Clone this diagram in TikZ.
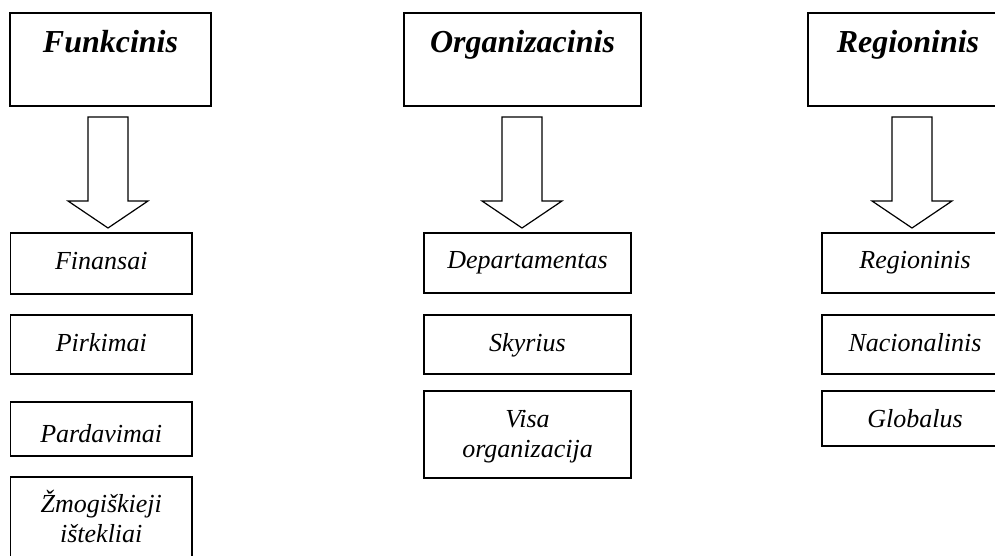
\documentclass[tikz,border=0pt]{standalone}
\usepackage{fontspec}
\setmainfont{Liberation Serif}
\begin{document}
\begin{tikzpicture}[x=1pt,y=-1pt,
  line width=1.2pt,
  box/.style={draw,rectangle,inner sep=0pt,line join=miter},
  hdrtext/.style={anchor=base,inner sep=0pt,font=\fontsize{32}{38}\selectfont\bfseries\itshape},
  subtext/.style={anchor=base,inner sep=0pt,align=center,font=\fontsize{26}{30}\selectfont\itshape},
  blockarrow/.style={draw,line join=miter,fill=white}]
\useasboundingbox (0,0) rectangle (995,556);
\clip (0,0) rectangle (995,556);
% block arrow: centre x, shaft from 117 to 201, tip at 228
\newcommand{\downblock}[1]{%
  \draw[blockarrow] (#1-20,117) -- (#1+20,117) -- (#1+20,201) -- (#1+40,201)
    -- (#1,228) -- (#1-40,201) -- (#1-20,201) -- cycle;}

% ---- column 1: Funkcinis
\node[box,minimum width=201pt,minimum height=93pt] (f) at (110.5,59.5) {};
\node[hdrtext] (ft) at (110.5,53) {Funkcinis};
\downblock{108}
\node[box,minimum width=181.5pt,minimum height=61pt] (f1) at (101.25,263.5) {};
\node[subtext] (f1t) at (101.25,269) {Finansai};
\node[box,minimum width=181.5pt,minimum height=59pt] (f2) at (101.25,344.5) {};
\node[subtext] (f2t) at (101.25,351) {Pirkimai};
\node[box,minimum width=181.5pt,minimum height=54pt] (f3) at (101.25,429) {};
\node[subtext] (f3t) at (101.25,442) {Pardavimai};
\node[box,minimum width=181.5pt,minimum height=92pt] (f4) at (101.25,523) {};
\node[subtext] (f4a) at (101.25,512) {Žmogiškieji};
\node[subtext] (f4b) at (101.25,542) {ištekliai};

% ---- column 2: Organizacinis
\node[box,minimum width=237pt,minimum height=93pt] (o) at (522.5,59.5) {};
\node[hdrtext] (ot) at (522.5,53) {Organizacinis};
\downblock{522}
\node[box,minimum width=207pt,minimum height=60pt] (o1) at (527.5,263) {};
\node[subtext] (o1t) at (527.5,268) {Departamentas};
\node[box,minimum width=207pt,minimum height=59pt] (o2) at (527.5,344.5) {};
\node[subtext] (o2t) at (527.5,351) {Skyrius};
\node[box,minimum width=207pt,minimum height=87pt] (o3) at (527.5,434.5) {};
\node[subtext] (o3a) at (527.5,427) {Visa};
\node[subtext] (o3b) at (527.5,457) {organizacija};

% ---- column 3: Regioninis
\node[box,minimum width=200pt,minimum height=93pt] (r) at (908,59.5) {};
\node[hdrtext] (rt) at (908,53) {Regioninis};
\downblock{912}
\node[box,minimum width=186pt,minimum height=60pt] (r1) at (915,263) {};
\node[subtext] (r1t) at (915,268) {Regioninis};
\node[box,minimum width=186pt,minimum height=59pt] (r2) at (915,344.5) {};
\node[subtext] (r2t) at (915,351) {Nacionalinis};
\node[box,minimum width=186pt,minimum height=55pt] (r3) at (915,418.5) {};
\node[subtext] (r3t) at (915,427) {Globalus};
\end{tikzpicture}
\end{document}
